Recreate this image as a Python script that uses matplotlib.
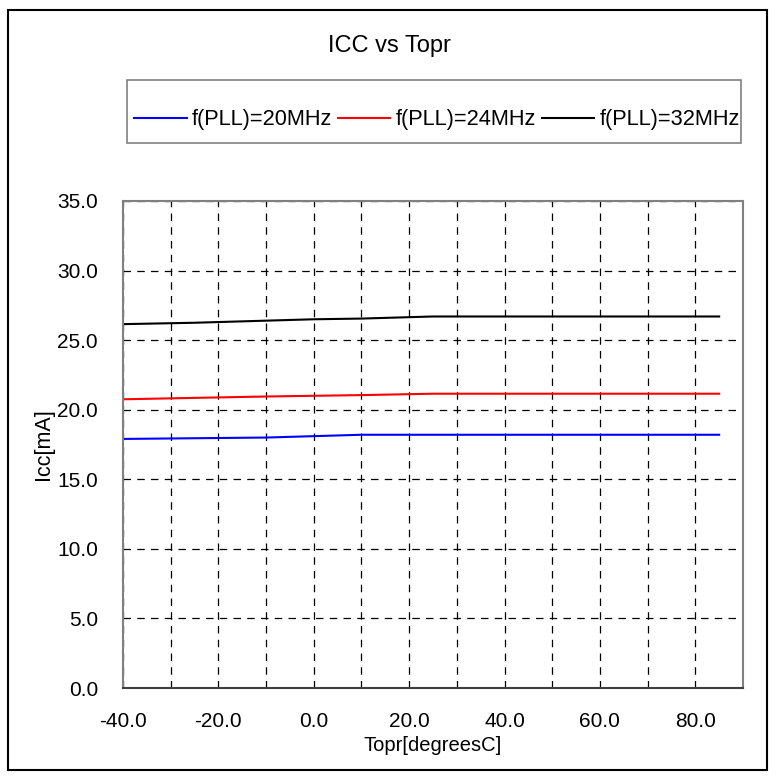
import matplotlib
matplotlib.use("Agg")
import matplotlib.pyplot as plt
from matplotlib.patches import Rectangle
from matplotlib.lines import Line2D

temps = [-40, -25, -10, 0, 10, 25, 85]
icc_20mhz = [17.9, 17.95, 18.0, 18.1, 18.2, 18.2, 18.2]
icc_24mhz = [20.75, 20.85, 20.95, 21.0, 21.05, 21.15, 21.15]
icc_32mhz = [26.15, 26.25, 26.4, 26.5, 26.55, 26.7, 26.7]
series_labels = ["f(PLL)=20MHz", "f(PLL)=24MHz", "f(PLL)=32MHz"]
series_colors = ["#0000FF", "#FF0000", "#000000"]
x_ticks = [-40, -20, 0, 20, 40, 60, 80]
y_ticks = [0, 5, 10, 15, 20, 25, 30, 35]

plt.rcParams['font.family'] = ['Liberation Sans', 'DejaVu Sans']

W, H = 776, 778
fig = plt.figure(figsize=(W / 100, H / 100), dpi=100)

def fx(px):
    return px / W

def fy(py):
    return 1 - py / H

# outer border
fig.patches.append(Rectangle((fx(8), fy(770)), fx(767) - fx(8), fy(10) - fy(770),
                             transform=fig.transFigure, fill=False, edgecolor='black', lw=1.5))

ax = fig.add_axes([fx(123), fy(688), fx(743) - fx(123), fy(201) - fy(688)])

for y, c, lab in zip([icc_20mhz, icc_24mhz, icc_32mhz], series_colors, series_labels):
    ax.plot(temps, y, color=c, lw=1.5, label=lab)

ax.set_xlim(-40, 90)
ax.set_ylim(0, 35)
ax.set_xticks(x_ticks)
ax.set_xticklabels([f"{v:.1f}" for v in x_ticks])
ax.set_xticks(list(range(-30, 90, 10)), minor=True)
ax.set_yticks(y_ticks)
ax.set_yticklabels([f"{v:.1f}" for v in y_ticks])
ax.tick_params(axis='both', which='both', length=0, labelsize=15)
ax.tick_params(axis='x', pad=17)
ax.tick_params(axis='y', pad=18)
ax.grid(True, which='both', axis='x', color='black', lw=0.9, linestyle=(0, (6, 5)))
ax.grid(True, which='major', axis='y', color='black', lw=0.9, linestyle=(0, (6, 5)))
ax.set_axisbelow(True)
for s in ['left', 'top', 'right']:
    ax.spines[s].set_color('#808080')
    ax.spines[s].set_linewidth(1.5)
ax.spines['bottom'].set_color('#404040')
ax.spines['bottom'].set_linewidth(1.5)

ax.set_xlabel("Topr[degreesC]", fontsize=14.5, labelpad=4)
ax.set_ylabel("Icc[mA]", fontsize=15.5, labelpad=2)

fig.text(fx(389), fy(46), "ICC vs Topr", ha='center', va='center', fontsize=17)

# legend box
fig.patches.append(Rectangle((fx(127), fy(143)), fx(741) - fx(127), fy(80) - fy(143),
                             transform=fig.transFigure, fill=False, edgecolor='#808080', lw=1.2))
handles = [Line2D([], [], color=c, lw=1.5) for c in series_colors]
fig.legend(handles, series_labels, loc='center', bbox_to_anchor=(fx(437), fy(120)),
           ncol=3, frameon=False, fontsize=15.7, handlelength=2.4, handletextpad=0.25,
           columnspacing=0.25, borderpad=0)

fig.savefig("out.png", dpi=100)
